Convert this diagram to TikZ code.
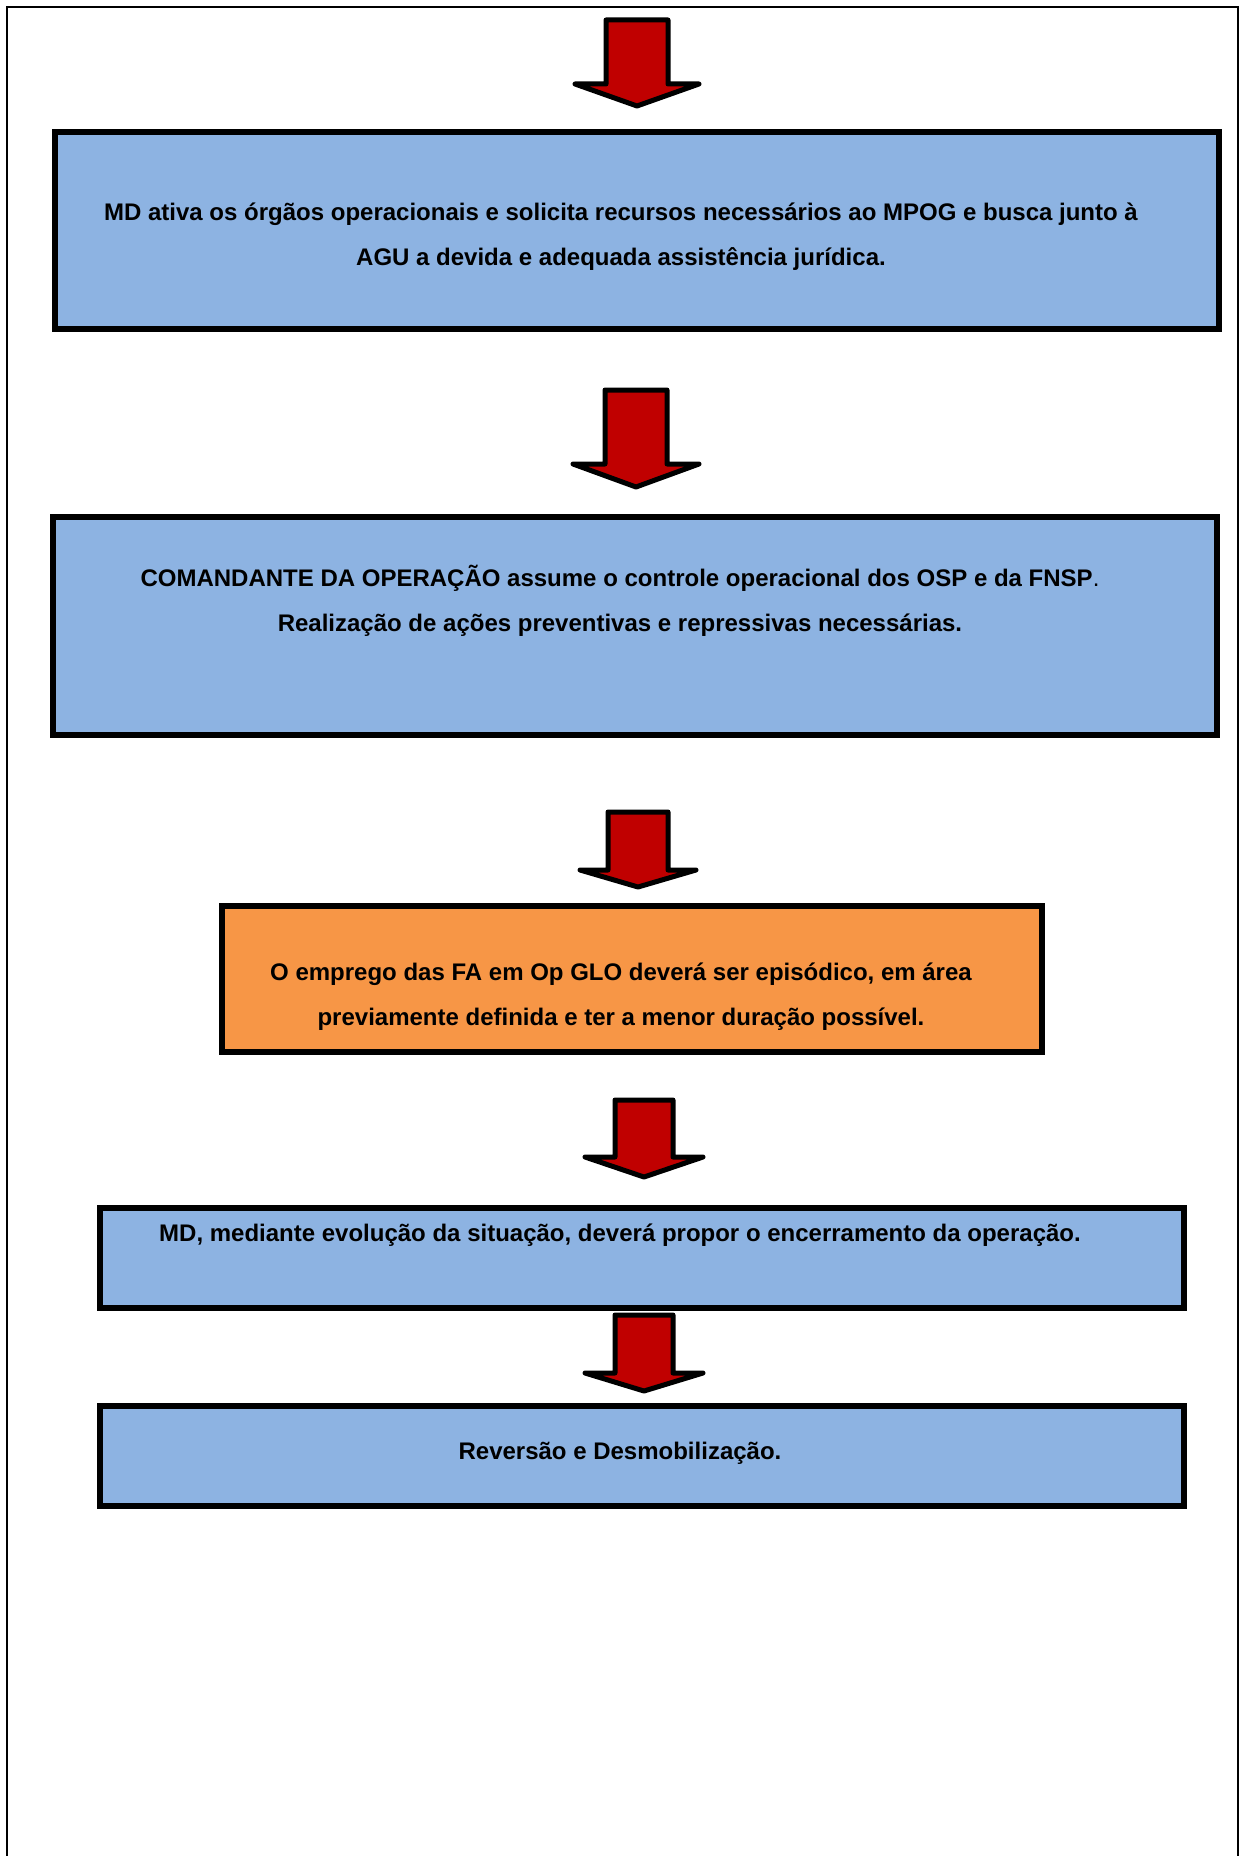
\documentclass[tikz,border=0pt]{standalone}
\usepackage{fontspec}
\setmainfont{Liberation Sans}
\definecolor{boxblue}{HTML}{8DB3E2}
\definecolor{boxorange}{HTML}{F79646}
\definecolor{arrowred}{HTML}{C00000}
\tikzset{
  stepbox/.style={draw=black, line width=3pt, fill=boxblue, rectangle, inner sep=0pt},
  orangebox/.style={stepbox, fill=boxorange},
  boxtext/.style={font=\fontsize{12}{22.5}\selectfont\bfseries, align=center, inner sep=0pt},
  blockarrow/.style={draw=black, fill=arrowred, line width=2.5pt, line join=round},
}
% #1 centre x, #2 top y, #3 wing y, #4 tip y, #5 half shaft, #6 half wing
\newcommand{\myblockarrow}[6]{%
  \draw[blockarrow] (#1-#5,#2) -- (#1+#5,#2) -- (#1+#5,#3) -- (#1+#6,#3) -- (#1,#4)
     -- (#1-#6,#3) -- (#1-#5,#3) -- cycle;}
\begin{document}
\begin{tikzpicture}[x=0.5pt,y=-0.5pt]
\useasboundingbox (0,0) rectangle (1240,1856);
% outer frame (open at the bottom)
\draw[line width=1pt] (7,1856) -- (7,7) -- (1238,7) -- (1238,1856);

% boxes
\node[stepbox, minimum width=582pt, minimum height=98.5pt] (b1) at (637,231) {};
\node[stepbox, minimum width=582pt, minimum height=109pt] (b2) at (635,625.5) {};
\node[orangebox, minimum width=410pt, minimum height=73pt] (b3) at (632,979) {};
\node[stepbox, minimum width=542pt, minimum height=50pt] (b4) at (642,1258) {};
\node[stepbox, minimum width=542pt, minimum height=50pt] (b5) at (642,1455.5) {};

% texts
\node[boxtext] (t1) at (621,236.5) {MD ativa os órgãos operacionais e solicita recursos necessários ao MPOG e busca junto à\\AGU a devida e adequada assistência jurídica.};
\node[boxtext] (t2) at (620,601) {COMANDANTE DA OPERAÇÃO assume o controle operacional dos OSP e da FNSP{\mdseries .}\\Realização de ações preventivas e repressivas necessárias.};
\node[boxtext] (t3) at (621,996.5) {O emprego das FA em Op GLO deverá ser episódico, em área\\previamente definida e ter a menor duração possível.};
\node[boxtext] (t4) at (620,1235.5) {MD, mediante evolução da situação, deverá propor o encerramento da operação.};
\node[boxtext] (t5) at (620,1453.5) {Reversão e Desmobilização.};

% block arrows
\myblockarrow{637}{20}{84}{106}{31}{62}
\myblockarrow{636}{390}{464}{487}{31}{63}
\myblockarrow{638}{812}{870}{887}{30}{58}
\myblockarrow{644}{1100}{1157}{1177}{29}{59}
\myblockarrow{644}{1315}{1373}{1391}{29}{59}
\end{tikzpicture}
\end{document}
